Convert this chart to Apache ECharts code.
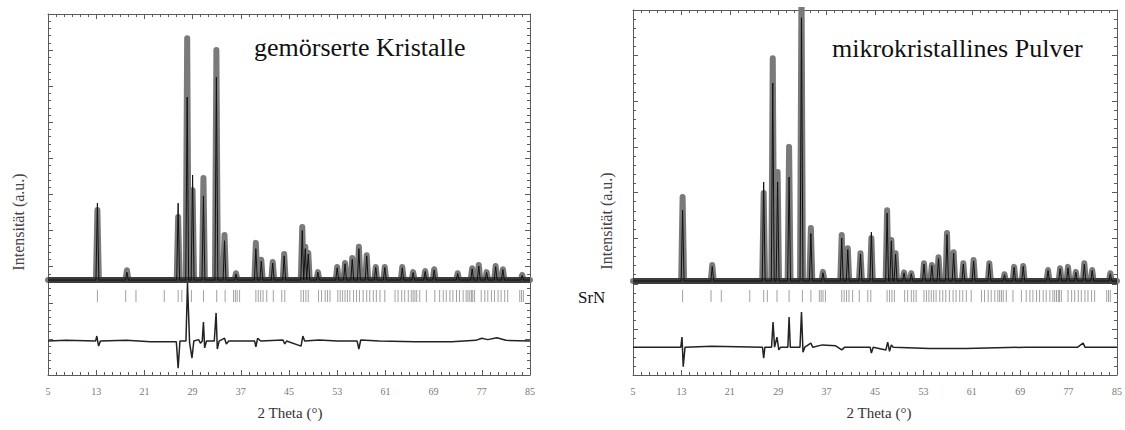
<!DOCTYPE html>
<html>
<head>
<meta charset="utf-8">
<script src="https://cdn.jsdelivr.net/npm/echarts@6/dist/echarts.min.js"></script>
<style>
  html, body { margin: 0; padding: 0; background: #fff; }
  #main { width: 1125px; height: 430px; }
</style>
</head>
<body>
<div id="main"></div>
<script>
// reflection positions (2 Theta), same phase for both patterns
var reflections = [13.2, 17.9, 19.6, 24.3, 26.6, 27.2, 28.8, 30.8, 33.0, 34.4,
  35.8, 36.1, 36.4, 36.8, 39.5, 39.9, 40.3, 40.7, 41.3, 42.4, 43.8, 44.3,
  47.0, 47.4, 47.8, 48.2, 49.9, 50.4, 51.0, 51.4, 51.8,
  53.1, 53.5, 53.9, 54.3, 54.7, 55.1, 55.7, 56.2, 56.7,
  57.3, 57.9, 58.4, 59.0, 59.5, 60.1, 60.9,
  62.6, 63.1, 63.7, 64.2, 64.8, 65.3, 65.6, 65.9, 66.2, 66.7,
  67.8, 69.2, 70.0, 70.6, 71.1, 71.7, 72.2, 72.8, 73.3, 73.9, 74.4, 74.7, 75.0, 75.3, 75.5, 75.8,
  76.9, 77.5, 78.0, 78.6, 79.1, 79.7, 80.2, 80.8, 81.3,
  83.3, 83.6, 83.9];

// gemörserte Kristalle: [2Theta, observed, calculated]
var leftBg = 263;
var leftPeaks = [
  [13.2, 457, 476], [18.1, 290, 285], [26.6, 438, 476], [28.1, 933, 770],
  [29.0, 512, 554], [30.8, 546, 496], [32.95, 900, 825], [34.3, 388, 372],
  [36.2, 282, 280], [39.5, 366, 350], [40.4, 319, 315], [42.3, 313, 310],
  [44.2, 335, 330], [47.2, 410, 400], [47.7, 355, 350], [48.2, 338, 335],
  [49.8, 285, 285], [53.0, 299, 297], [54.3, 310, 308], [55.5, 324, 320],
  [56.6, 355, 350], [57.9, 332, 330], [59.4, 299, 298], [60.9, 299, 298],
  [63.8, 299, 297], [65.6, 285, 284], [67.6, 288, 287], [69.1, 293, 291],
  [73.0, 282, 281], [75.4, 296, 294], [76.5, 305, 302], [77.8, 285, 284],
  [79.3, 302, 300], [80.5, 293, 292], [83.7, 277, 276]
];
var leftDiff = [
  [5, 94], [8, 96], [12.9, 94], [13.1, 108], [13.4, 80], [13.7, 94], [18, 96], [22, 92],
  [26.3, 92], [26.6, 19], [26.9, 94], [27.9, 94], [28.15, 255], [28.5, 90], [28.9, 47],
  [29.2, 94], [30.0, 98], [30.3, 88], [30.6, 94], [30.8, 147], [31.0, 75], [31.3, 94],
  [32.6, 94], [32.9, 172], [33.1, 72], [33.4, 94], [34.3, 102], [34.6, 86], [35, 94],
  [39.3, 94], [39.5, 78], [39.8, 102], [40.3, 94], [44, 97], [44.3, 86], [44.6, 94],
  [47.0, 80], [47.3, 108], [47.6, 94], [50, 97], [53, 94], [56.3, 94], [56.6, 72],
  [56.9, 97], [60, 94], [66, 92], [72, 92], [76, 96], [77, 102], [78, 98], [79.5, 103],
  [81, 96], [85, 94]
];

// mikrokristallines Pulver: [2Theta, observed, calculated]
var rightBg = 206;
var rightPeaks = [
  [13.2, 390, 361], [18.1, 241, 238], [26.6, 399, 423], [28.1, 694, 640],
  [28.9, 445, 423], [30.8, 500, 434], [32.85, 860, 783], [34.4, 322, 310],
  [36.4, 226, 224], [39.5, 307, 300], [40.5, 278, 275], [42.6, 267, 265],
  [44.4, 300, 313], [47.0, 361, 355], [47.7, 296, 294], [48.4, 267, 265],
  [49.8, 225, 224], [51.0, 223, 222], [53.1, 245, 243], [54.4, 241, 240],
  [55.5, 258, 256], [56.9, 311, 308], [58.0, 269, 267], [59.6, 245, 243],
  [61.3, 252, 250], [63.9, 245, 244], [66.4, 221, 220], [68.0, 237, 236],
  [69.5, 239, 238], [73.6, 230, 229], [75.6, 234, 233], [76.9, 237, 235],
  [78.2, 226, 225], [79.6, 245, 243], [80.9, 230, 229], [83.9, 223, 222]
];
var rightDiff = [
  [5, 61], [12.9, 61], [13.1, 83], [13.3, 18], [13.6, 61], [18, 63], [26.4, 61],
  [26.6, 37], [26.8, 61], [27.9, 61], [28.15, 116], [28.4, 61], [28.8, 83], [29.1, 55],
  [29.4, 61], [30.6, 61], [30.8, 127], [31.0, 61], [32.6, 61], [32.85, 138], [33.1, 50],
  [33.4, 61], [34.4, 70], [34.7, 61], [36.3, 66], [38.5, 64], [39.5, 55], [40, 61],
  [44.2, 61], [44.4, 48], [44.7, 61], [46.8, 55], [47.1, 72], [47.4, 52], [47.7, 66],
  [48, 61], [54, 58], [60, 58], [70, 61], [78.5, 61], [79.4, 70], [79.7, 61], [85, 61]
];

var W = 0.24;
function profile(peaks, bg, col) {
  var pts = [[5, bg]];
  peaks.forEach(function (p) {
    pts.push([p[0] - W, bg], [p[0], p[col]], [p[0] + W, bg]);
  });
  pts.push([85, bg]);
  return pts;
}

var axisCol = '#5a5a5a';
function xAx(grid, pos, labels) {
  return {
    type: 'value', gridIndex: grid, position: pos, min: 5, max: 85, interval: 8,
    axisLine: { show: true, onZero: false, lineStyle: { color: axisCol, width: 1 } },
    axisTick: { show: true, inside: true, length: 5, lineStyle: { color: axisCol } },
    minorTick: { show: true, splitNumber: 6, length: 3, lineStyle: { color: axisCol } },
    splitLine: { show: false },
    axisLabel: { show: labels, margin: 11, color: '#777', fontSize: 10, fontFamily: 'Liberation Serif' }
  };
}
function yAx(grid, pos, max) {
  return {
    type: 'value', gridIndex: grid, position: pos, min: 0, max: max, interval: 100,
    axisLine: { show: true, onZero: false, lineStyle: { color: axisCol, width: 1 } },
    axisTick: { show: true, inside: true, length: 5, lineStyle: { color: axisCol } },
    minorTick: { show: true, splitNumber: 5, length: 3, lineStyle: { color: axisCol } },
    splitLine: { show: false },
    axisLabel: { show: false }
  };
}

function seriesFor(xi, yi, peaks, bg, diff, tickLevel) {
  return [
    { type: 'line', xAxisIndex: xi, yAxisIndex: yi, data: profile(peaks, bg, 1), symbol: 'none',
      lineStyle: { color: '#7a7a7a', width: 6, join: 'round', cap: 'round' }, z: 2 },
    { type: 'line', xAxisIndex: xi, yAxisIndex: yi, data: [[5, bg], [85, bg]], symbol: 'none',
      lineStyle: { color: '#3c3c3c', width: 6 }, z: 2 },
    { type: 'line', xAxisIndex: xi, yAxisIndex: yi, data: profile(peaks, bg, 2), symbol: 'none',
      lineStyle: { color: '#111', width: 1 }, z: 3 },
    { type: 'line', xAxisIndex: xi, yAxisIndex: yi, data: diff, symbol: 'none',
      lineStyle: { color: '#222', width: 1.5 }, z: 3 },
    { type: 'scatter', xAxisIndex: xi, yAxisIndex: yi, symbol: 'rect', symbolSize: [1, 12],
      data: reflections.map(function (t) { return [t, tickLevel]; }),
      itemStyle: { color: '#8a8a8a' }, z: 2 }
  ];
}

var chart = echarts.init(document.getElementById('main'), null, { renderer: 'svg' });
chart.setOption({
  animation: false,
  grid: [
    { left: 48, top: 14, width: 482, height: 361 },
    { left: 633, top: 10, width: 489, height: 365 }
  ],
  xAxis: [xAx(0, 'bottom', true), xAx(0, 'top', false), xAx(1, 'bottom', true), xAx(1, 'top', false)],
  yAxis: [yAx(0, 'left', 1000), yAx(0, 'right', 1000), yAx(1, 'left', 800), yAx(1, 'right', 800)],
  series: [].concat(
    seriesFor(0, 0, leftPeaks, leftBg, leftDiff, 219),
    seriesFor(2, 2, rightPeaks, rightBg, rightDiff, 173)
  ),
  graphic: [
    { type: 'text', left: 254, top: 34, style: { text: 'gemörserte Kristalle', font: '26px "Liberation Serif"', fill: '#111' } },
    { type: 'text', left: 832, top: 35, style: { text: 'mikrokristallines Pulver', font: '26px "Liberation Serif"', fill: '#111' } },
    { type: 'text', left: 578, top: 289, style: { text: 'SrN', font: '17px "Liberation Serif"', fill: '#111' } },
    { type: 'text', x: 290, y: 413, style: { text: '2 Theta (°)', font: '15px "Liberation Serif"', fill: '#333', align: 'center', verticalAlign: 'middle' } },
    { type: 'text', x: 879, y: 413, style: { text: '2 Theta (°)', font: '15px "Liberation Serif"', fill: '#333', align: 'center', verticalAlign: 'middle' } },
    { type: 'text', x: 18, y: 222, rotation: Math.PI / 2, style: { text: 'Intensität (a.u.)', font: '16px "Liberation Serif"', fill: '#444', align: 'center', verticalAlign: 'middle' } },
    { type: 'text', x: 606, y: 221, rotation: Math.PI / 2, style: { text: 'Intensität (a.u.)', font: '16px "Liberation Serif"', fill: '#444', align: 'center', verticalAlign: 'middle' } }
  ]
});
</script>
</body>
</html>
